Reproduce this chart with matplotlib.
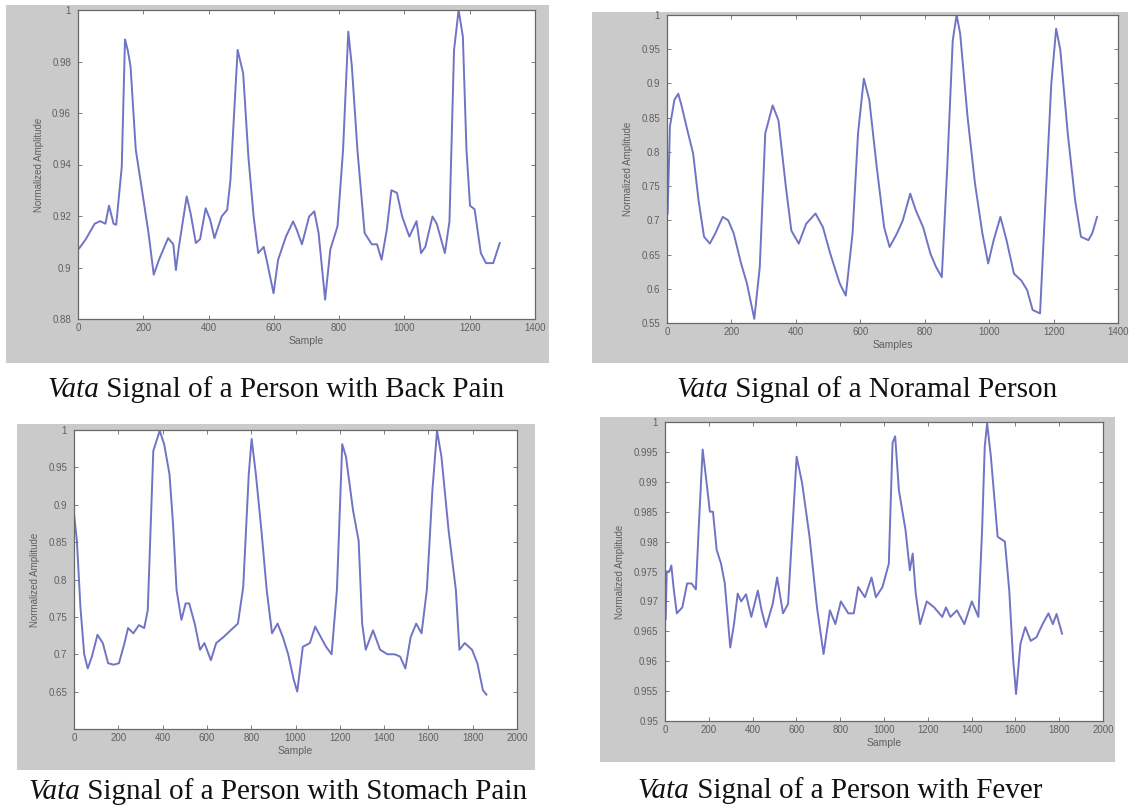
import matplotlib
matplotlib.use("Agg")
import matplotlib.pyplot as plt
from matplotlib.patches import Rectangle
from matplotlib.ticker import FuncFormatter
import numpy as np

W, H = 1138, 806

# ── data ────────────────────────────────────────────────────────────────────
back_x = [4, 24, 51, 68, 84, 95, 109, 117, 134, 144, 153, 161, 177, 199, 216, 232, 248, 276,
          292, 300, 309, 333, 345, 361, 374, 391, 405, 418, 440, 457, 467, 489, 506, 522, 538,
          552, 569, 580, 599, 613, 637, 659, 670, 686, 708, 724, 737, 757, 773, 795, 812, 828,
          839, 856, 878, 900, 916, 930, 946, 960, 977, 993, 1015, 1037, 1051, 1064, 1086, 1099,
          1124, 1138, 1152, 1166, 1179, 1190, 1201, 1215, 1234, 1250, 1272, 1292]
back_y = [0.9075, 0.911, 0.917, 0.918, 0.917, 0.924, 0.917, 0.9166, 0.939, 0.9886, 0.984, 0.978,
          0.9457, 0.9276, 0.9134, 0.8972, 0.903, 0.9114, 0.909, 0.899, 0.908, 0.9276, 0.921,
          0.9095, 0.911, 0.923, 0.9185, 0.9114, 0.9198, 0.9224, 0.934, 0.9845, 0.9754, 0.943,
          0.9198, 0.9056, 0.908, 0.9017, 0.89, 0.903, 0.912, 0.9179, 0.9147, 0.909, 0.9198,
          0.9218, 0.9134, 0.8875, 0.907, 0.916, 0.9457, 0.9916, 0.978, 0.9457, 0.9134, 0.909,
          0.909, 0.903, 0.9147, 0.930, 0.929, 0.9198, 0.912, 0.918, 0.9056, 0.908, 0.9198, 0.917,
          0.9056, 0.918, 0.9845, 1.0, 0.9897, 0.9457, 0.924, 0.9226, 0.9056, 0.9017, 0.9017, 0.9095]

normal_x = [2, 9, 23, 35, 46, 63, 81, 98, 115, 133, 150, 173, 190, 207, 230, 248, 271, 288, 305,
            328, 346, 369, 386, 409, 432, 461, 484, 507, 536, 555, 576, 593, 611, 628, 651, 674,
            691, 714, 732, 755, 772, 795, 818, 835, 853, 870, 887, 899, 910, 933, 956, 979, 997,
            1014, 1035, 1054, 1077, 1100, 1118, 1135, 1158, 1175, 1193, 1208, 1221, 1244, 1267,
            1285, 1308, 1320, 1335]
normal_y = [0.71, 0.837, 0.876, 0.885, 0.866, 0.832, 0.798, 0.729, 0.676, 0.666, 0.681, 0.705,
            0.70, 0.681, 0.637, 0.608, 0.556, 0.632, 0.827, 0.868, 0.846, 0.749, 0.685, 0.666,
            0.695, 0.71, 0.69, 0.651, 0.608, 0.59, 0.681, 0.827, 0.907, 0.876, 0.778, 0.690,
            0.661, 0.681, 0.70, 0.739, 0.715, 0.69, 0.651, 0.632, 0.617, 0.778, 0.963, 1.0,
            0.973, 0.851, 0.754, 0.681, 0.637, 0.671, 0.705, 0.671, 0.622, 0.612, 0.598, 0.569,
            0.564, 0.729, 0.90, 0.980, 0.949, 0.827, 0.729, 0.676, 0.671, 0.681, 0.705]

stomach_x = [0, 13, 29, 46, 62, 81, 106, 130, 154, 179, 203, 228, 244, 268, 293, 317, 333, 358,
             387, 407, 431, 447, 463, 485, 504, 520, 545, 569, 589, 618, 642, 675, 707, 740, 764,
             789, 802, 821, 846, 870, 894, 919, 943, 967, 992, 1008, 1033, 1065, 1089, 1114,
             1138, 1163, 1187, 1211, 1228, 1260, 1285, 1301, 1317, 1350, 1382, 1415, 1447, 1472,
             1496, 1520, 1545, 1569, 1593, 1618, 1639, 1659, 1691, 1724, 1740, 1764, 1797, 1821,
             1846, 1862]
stomach_y = [0.888, 0.852, 0.763, 0.70, 0.681, 0.697, 0.726, 0.715, 0.688, 0.686, 0.688, 0.715,
             0.735, 0.728, 0.739, 0.735, 0.759, 0.972, 0.999, 0.981, 0.941, 0.875, 0.786, 0.746,
             0.768, 0.768, 0.741, 0.706, 0.715, 0.692, 0.715, 0.723, 0.732, 0.741, 0.79, 0.941,
             0.988, 0.941, 0.866, 0.786, 0.728, 0.741, 0.723, 0.70, 0.666, 0.650, 0.71, 0.715,
             0.737, 0.723, 0.71, 0.70, 0.786, 0.981, 0.964, 0.892, 0.852, 0.741, 0.706, 0.732,
             0.706, 0.70, 0.70, 0.697, 0.681, 0.723, 0.741, 0.728, 0.786, 0.919, 0.999, 0.964,
             0.866, 0.786, 0.706, 0.715, 0.706, 0.688, 0.652, 0.646]

fever_x = [3, 8, 20, 29, 40, 54, 79, 101, 121, 141, 155, 172, 185, 205, 219, 236, 256, 273, 298,
           315, 332, 348, 370, 394, 424, 441, 461, 492, 512, 539, 562, 601, 626, 660, 694, 724,
           753, 778, 803, 837, 862, 882, 913, 943, 963, 993, 1022, 1039, 1051, 1068, 1098, 1118,
           1131, 1145, 1165, 1195, 1229, 1266, 1283, 1303, 1333, 1367, 1401, 1431, 1448, 1460,
           1471, 1488, 1519, 1552, 1572, 1589, 1603, 1623, 1645, 1670, 1696, 1724, 1751, 1771,
           1788, 1813]
fever_y = [0.967, 0.975, 0.975, 0.976, 0.972, 0.968, 0.969, 0.973, 0.973, 0.972, 0.983, 0.9954,
           0.9914, 0.985, 0.985, 0.9786, 0.9763, 0.973, 0.9623, 0.9662, 0.9713, 0.970, 0.9712,
           0.9674, 0.9718, 0.9685, 0.9657, 0.9696, 0.974, 0.968, 0.9696, 0.9942, 0.9898, 0.9808,
           0.969, 0.9612, 0.9685, 0.9662, 0.970, 0.968, 0.968, 0.9724, 0.9707, 0.974, 0.9707,
           0.9724, 0.9763, 0.9965, 0.9976, 0.9886, 0.982, 0.9752, 0.978, 0.9713, 0.9662, 0.970,
           0.969, 0.9674, 0.969, 0.9674, 0.9685, 0.9662, 0.970, 0.9674, 0.982, 0.9959, 0.9998,
           0.9942, 0.9808, 0.980, 0.9718, 0.9606, 0.9545, 0.9629, 0.9657, 0.9634, 0.964, 0.9662,
           0.968, 0.9662, 0.9679, 0.9646]

back_yticks = [0.88, 0.9, 0.92, 0.94, 0.96, 0.98, 1]
normal_yticks = [0.55, 0.6, 0.65, 0.7, 0.75, 0.8, 0.85, 0.9, 0.95, 1]
stomach_yticks = [0.65, 0.7, 0.75, 0.8, 0.85, 0.9, 0.95, 1]
fever_yticks = [0.95, 0.955, 0.96, 0.965, 0.97, 0.975, 0.98, 0.985, 0.99, 0.995, 1]

captions = ["Signal of a Person with Back Pain",
            "Signal of a Noramal Person",
            "Signal of a Person with Stomach Pain",
            "Signal of a Person with Fever"]

# ── layout (pixel boxes: grey panel, axes, caption centre/baseline) ────────
panels = [
    dict(x=back_x, y=back_y, xlim=(0, 1400), ylim=(0.88, 1), yt=back_yticks, xl="Sample",
         grey=(6, 5, 549, 363), ax=(78, 10, 535, 319), cap=(276, 397)),
    dict(x=normal_x, y=normal_y, xlim=(0, 1400), ylim=(0.55, 1), yt=normal_yticks, xl="Samples",
         grey=(592, 12, 1128, 363), ax=(667, 15, 1118, 323), cap=(867, 397)),
    dict(x=stomach_x, y=stomach_y, xlim=(0, 2000), ylim=(0.6, 1), yt=stomach_yticks, xl="Sample",
         grey=(17, 424, 535, 770), ax=(74, 430, 517, 729), cap=(278, 799)),
    dict(x=fever_x, y=fever_y, xlim=(0, 2000), ylim=(0.95, 1), yt=fever_yticks, xl="Sample",
         grey=(600, 417, 1115, 762), ax=(665, 422, 1103, 721), cap=(840, 798)),
]

fig = plt.figure(figsize=(W / 100, H / 100), dpi=100)
fig.patch.set_facecolor("white")

def frac(l, t, r, b):
    return [l / W, 1 - b / H, (r - l) / W, (b - t) / H]

fmt = FuncFormatter(lambda v, p: f"{v:g}")

for i, p in enumerate(panels):
    l, t, r, b = p["grey"]
    fig.patches.append(Rectangle((l / W, 1 - b / H), (r - l) / W, (b - t) / H,
                                 transform=fig.transFigure, facecolor="#cacaca",
                                 edgecolor="none", zorder=-1))
    ax = fig.add_axes(frac(*p["ax"]))
    ax.set_zorder(1)
    ax.set_facecolor("white")
    ax.plot(p["x"], p["y"], color="#7074c4", linewidth=1.4, solid_joinstyle="round")
    ax.set_xlim(*p["xlim"])
    ax.set_ylim(*p["ylim"])
    ax.set_xticks(np.arange(p["xlim"][0], p["xlim"][1] + 1, 200))
    ax.set_yticks(p["yt"])
    ax.xaxis.set_major_formatter(fmt)
    ax.yaxis.set_major_formatter(fmt)
    ax.tick_params(direction="in", top=True, right=True, length=3, width=0.6,
                   color="#666666", labelcolor="#606060", labelsize=7, pad=3)
    ax.tick_params(axis="y", pad=5)
    for lab in ax.get_xticklabels() + ax.get_yticklabels():
        lab.set_family("Liberation Sans")
    for s in ax.spines.values():
        s.set_color("#686868")
        s.set_linewidth(0.9)
    ax.set_xlabel(p["xl"], fontsize=7.5, color="#606060", family="Liberation Sans", labelpad=2)
    ax.set_ylabel("Normalized Amplitude", fontsize=7, color="#606060",
                  family="Liberation Sans", labelpad=6)

# captions: italic "Vata" followed by the plain text, centred as a whole
renderer = fig.canvas.get_renderer()
for p, cap in zip(panels, captions):
    cx, cy = p["cap"]
    t1 = fig.text(0, 1 - cy / H, "Vata", fontsize=21, style="italic",
                  family="Liberation Serif", va="baseline", color="#111111")
    t2 = fig.text(0, 1 - cy / H, " " + cap, fontsize=21,
                  family="Liberation Serif", va="baseline", color="#111111")
    w1 = t1.get_window_extent(renderer).width
    w2 = t2.get_window_extent(renderer).width
    x0 = cx - (w1 + w2) / 2
    t1.set_x(x0 / W)
    t2.set_x((x0 + w1) / W)

fig.savefig("out.png", dpi=100)
